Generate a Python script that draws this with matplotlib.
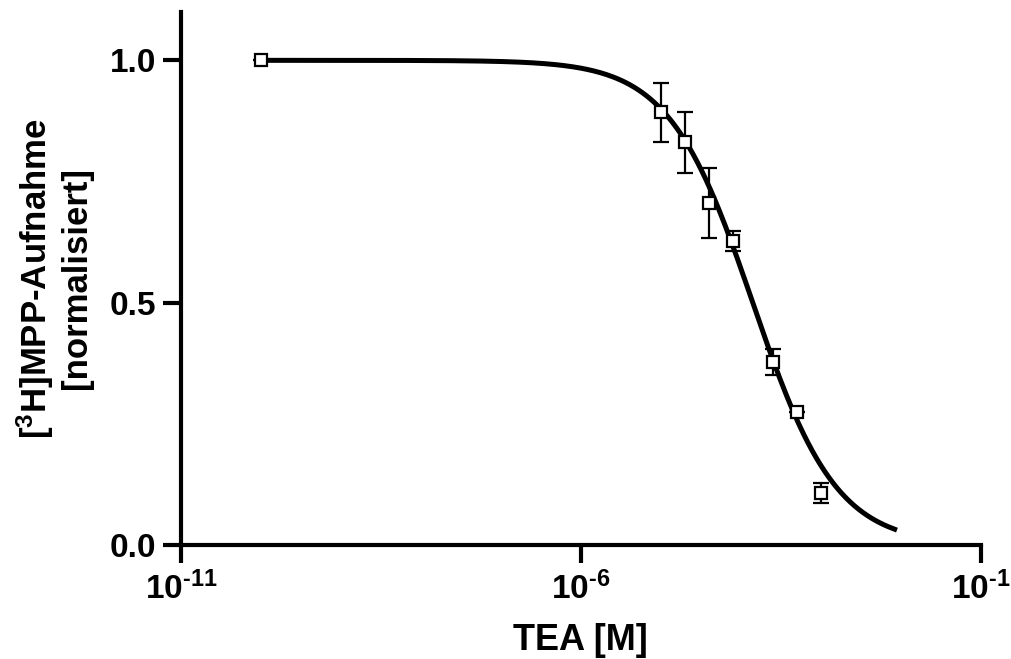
import numpy as np
import matplotlib
matplotlib.use("Agg")
from matplotlib import pyplot as plt
from matplotlib.ticker import FixedLocator, FuncFormatter, NullLocator

# messwerte (normalisierte aufnahme)
conc = [1e-10, 1e-5, 2e-5, 4e-5, 8e-5, 2.5e-4, 5e-4, 1e-3]
uptake = [1.0, 0.893, 0.831, 0.705, 0.627, 0.377, 0.274, 0.107]
sem = [0.0, 0.061, 0.063, 0.072, 0.021, 0.027, 0.0, 0.02]

# fit parameter (sigmoidal dose-response)
top = 1.0
bottom = 0.0
logIC50 = -3.85
hill = 0.83
fit_range = (1e-10, 8.4e-3)

xticks = [1e-11, 1e-6, 1e-1]
yticks = [0.0, 0.5, 1.0]

plt.rcParams['font.family'] = ['Liberation Sans', 'DejaVu Sans']
plt.rcParams['font.weight'] = 'bold'
plt.rcParams['mathtext.fontset'] = 'custom'
plt.rcParams['mathtext.rm'] = 'Liberation Sans:bold'
plt.rcParams['mathtext.bf'] = 'Liberation Sans:bold'
plt.rcParams['mathtext.it'] = 'Liberation Sans:bold'

HYPHEN = "\u2010"

def xfmt(v, p):
    return "$\\mathbf{10^{" + HYPHEN + "%d}}$" % abs(round(np.log10(v)))

fig = plt.figure(figsize=(10.11, 6.59), dpi=100)
ax = fig.add_axes([0.179, 0.173, 0.791, 0.809])

xfit = np.logspace(np.log10(fit_range[0]), np.log10(fit_range[1]), 300)
yfit = bottom + (top - bottom) / (1 + 10 ** ((np.log10(xfit) - logIC50) * hill))
ax.plot(xfit, yfit, color="black", lw=3.6, zorder=2)

ax.errorbar(conc, uptake, yerr=sem, fmt="none", ecolor="black", elinewidth=1.6,
            capsize=6, capthick=1.6, zorder=3)
ax.plot(conc, uptake, "s", ms=9, mfc="white", mec="black", mew=1.6, zorder=4)

ax.set_xscale("log")
ax.set_xlim(1e-11, 1e-1)
ax.set_ylim(0, 1.1)
ax.xaxis.set_major_locator(FixedLocator(xticks))
ax.xaxis.set_minor_locator(NullLocator())
ax.xaxis.set_major_formatter(FuncFormatter(xfmt))
ax.yaxis.set_major_locator(FixedLocator(yticks))
ax.yaxis.set_major_formatter(FuncFormatter(lambda v, p: "%.1f" % v))

for s in ["top", "right"]:
    ax.spines[s].set_visible(False)
for s in ["left", "bottom"]:
    ax.spines[s].set_linewidth(3)
ax.tick_params(axis="both", which="major", length=13, width=3)
ax.tick_params(axis="y", labelsize=24, pad=5)
ax.tick_params(axis="x", labelsize=24, pad=6)

ax.set_xlabel("TEA [M]", fontsize=26, fontweight="bold", labelpad=12)
ax.set_ylabel("[$^{3}$H]MPP-Aufnahme\n[normalisiert]", fontsize=25, fontweight="bold",
              labelpad=12, linespacing=1.15)

fig.savefig("out.png", dpi=100)
